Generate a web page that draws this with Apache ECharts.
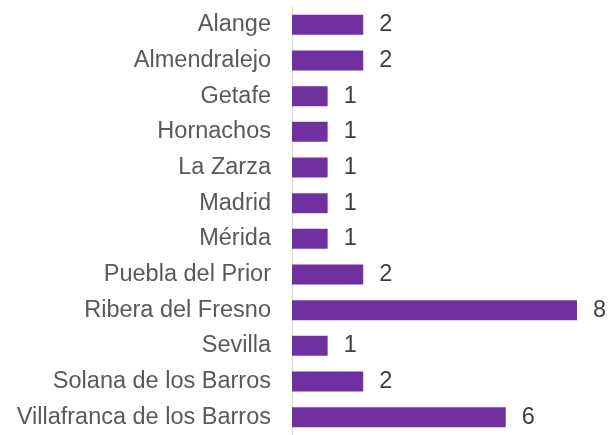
<!DOCTYPE html>
<html><head><meta charset="utf-8">
<script src="https://cdn.jsdelivr.net/npm/echarts@6/dist/echarts.min.js"></script>
<style>html,body{margin:0;padding:0;background:#fff}#c{width:615px;height:435px}</style>
</head><body><div id="c"></div>
<script>
const categories = ["Alange","Almendralejo","Getafe","Hornachos","La Zarza","Madrid","Mérida","Puebla del Prior","Ribera del Fresno","Sevilla","Solana de los Barros","Villafranca de los Barros"];
const values = [2,2,1,1,1,1,1,2,8,1,2,6];
const chart = echarts.init(document.getElementById('c'), null, {renderer:'canvas'});
chart.setOption({
  animation:false,
  grid:{left:292, top:7, height:432, width:285, containLabel:false},
  xAxis:{type:'value', min:0, max:8, show:false},
  yAxis:{type:'category', data:categories, inverse:true,
    axisLine:{show:true, lineStyle:{color:'#d9d9d9', width:1}},
    axisTick:{show:false},
    axisLabel:{color:'#595959', fontSize:23.5, fontFamily:'Liberation Sans, Arial, sans-serif', margin:21, padding:[4,0,0,0]}},
  series:[{type:'bar', data:values, barCategoryGap:'44%',
    itemStyle:{color:'#7030A0'},
    label:{show:true, position:'right', distance:16, color:'#404040', fontSize:23.5, fontFamily:'Liberation Sans, Arial, sans-serif', padding:[4,0,0,0]}}]
});
</script></body></html>
